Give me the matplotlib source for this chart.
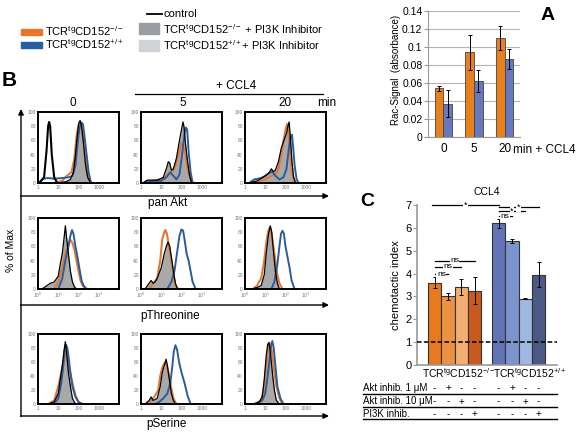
import numpy as np
import matplotlib
matplotlib.use("Agg")
import matplotlib.pyplot as plt
from matplotlib.patches import Rectangle
from matplotlib.transforms import blended_transform_factory

plt.rcParams['font.family'] = ['Liberation Sans', 'DejaVu Sans']
plt.rcParams['mathtext.fontset'] = 'custom'
plt.rcParams['mathtext.rm'] = 'Liberation Sans'
plt.rcParams['mathtext.it'] = 'Liberation Sans:italic'
plt.rcParams['mathtext.bf'] = 'Liberation Sans:bold'

# ---------------- data ----------------
# Panel A: Rac signal
rac_times = ['0', '5', '20']
rac_ko = [0.054, 0.094, 0.110]
rac_ko_err = [0.003, 0.019, 0.013]
rac_wt = [0.037, 0.062, 0.087]
rac_wt_err = [0.015, 0.012, 0.011]

# Panel C: chemotactic index
chemo_ko = [3.6, 3.0, 3.4, 3.25]
chemo_ko_err = [0.25, 0.15, 0.35, 0.6]
chemo_wt = [6.2, 5.42, 2.9, 3.95]
chemo_wt_err = [0.2, 0.1, 0.03, 0.55]
table_rows = ['Akt inhib. 1 \u03bcM', 'Akt inhib. 10 \u03bcM', 'PI3K inhib.']
table_signs = [['-', '+', '-', '-'], ['-', '-', '+', '-'], ['-', '-', '-', '+']]

# Panel B: flow histograms (log10 intensity, % of max)
AKT_0 = dict(
    ctrl=([0.05, 0.3, 0.42, 0.5, 0.55, 0.6, 0.68, 0.8, 0.95], [0, 8, 45, 80, 86, 80, 40, 8, 0]),
    pi3k=([1.0, 1.4, 1.6, 1.75, 1.85, 1.95, 2.02, 2.08, 2.15, 2.25, 2.35, 2.45, 2.6],
          [0, 2, 5, 15, 40, 70, 85, 88, 80, 55, 25, 8, 0]),
    ko=([0.8, 1.2, 1.35, 1.5, 1.65, 1.8, 1.9, 2.0, 2.08, 2.15, 2.25, 2.35, 2.45, 2.6],
        [0, 3, 8, 12, 15, 35, 65, 82, 85, 78, 55, 30, 10, 0]),
    wt=([0.05, 0.25, 0.5, 0.8, 1.2, 1.5, 1.7, 1.85, 1.95, 2.05, 2.15, 2.22, 2.3, 2.4, 2.5, 2.62],
        [0, 6, 7, 6, 7, 8, 10, 25, 55, 78, 85, 83, 65, 40, 15, 0]),
)
AKT_5 = dict(
    pi3k=([0.1, 0.3, 0.8, 1.1, 1.25, 1.35, 1.42, 1.5, 1.6, 1.75, 1.9, 2.0, 2.07, 2.12, 2.2, 2.3, 2.4, 2.5],
          [0, 4, 4, 8, 20, 30, 28, 18, 20, 35, 60, 75, 86, 80, 55, 30, 10, 0]),
    ko=([0.1, 0.5, 1.0, 1.2, 1.4, 1.6, 1.75, 1.9, 2.0, 2.1, 2.2, 2.3, 2.45, 2.6],
        [0, 3, 5, 8, 15, 18, 28, 45, 57, 50, 40, 20, 5, 0]),
    wt=([0.1, 0.6, 1.0, 1.25, 1.45, 1.6, 1.75, 1.9, 2.05, 2.15, 2.22, 2.28, 2.35, 2.45, 2.55],
        [0, 3, 3, 8, 15, 10, 5, 12, 45, 70, 78, 75, 45, 15, 0]),
)
AKT_20 = dict(
    pi3k=([0.2, 0.6, 1.0, 1.2, 1.3, 1.4, 1.5, 1.65, 1.8, 1.95, 2.05, 2.12, 2.18, 2.25, 2.32, 2.4, 2.5],
          [0, 3, 10, 15, 20, 16, 18, 30, 50, 62, 70, 80, 86, 60, 30, 8, 0]),
    ko=([0.5, 1.0, 1.3, 1.5, 1.65, 1.8, 1.9, 2.0, 2.08, 2.15, 2.22, 2.3, 2.4, 2.5],
        [0, 5, 10, 12, 20, 40, 60, 75, 83, 70, 45, 20, 5, 0]),
    wt=([0.2, 0.45, 0.8, 1.0, 1.2, 1.35, 1.5, 1.7, 1.9, 2.05, 2.15, 2.25, 2.32, 2.38, 2.45, 2.55, 2.65],
        [0, 5, 7, 10, 14, 16, 10, 5, 8, 20, 45, 65, 68, 50, 25, 5, 0]),
)
PTHR_0 = dict(
    pi3k=([0.2, 0.4, 0.6, 0.8, 1.0, 1.1, 1.2, 1.3, 1.35, 1.42, 1.5, 1.6, 1.7, 1.8, 1.9],
          [0, 4, 8, 10, 18, 35, 50, 75, 89, 70, 50, 25, 10, 3, 0]),
    ko=([0.8, 1.0, 1.2, 1.35, 1.5, 1.6, 1.7, 1.8, 1.9, 2.0, 2.1, 2.2, 2.35],
        [0, 10, 30, 50, 62, 69, 65, 55, 40, 25, 12, 5, 0]),
    wt=([1.0, 1.2, 1.35, 1.5, 1.6, 1.68, 1.75, 1.85, 1.95, 2.05, 2.15, 2.25, 2.4],
        [0, 15, 40, 60, 75, 83, 78, 60, 45, 28, 12, 5, 0]),
)
PTHR_5 = dict(
    pi3k=([0.2, 0.4, 0.5, 0.6, 0.7, 0.8, 1.0, 1.15, 1.25, 1.33, 1.42, 1.5, 1.6, 1.7, 1.8],
          [0, 8, 12, 8, 10, 15, 30, 50, 60, 66, 60, 45, 25, 8, 0]),
    ko=([0.4, 0.6, 0.8, 0.95, 1.05, 1.15, 1.2, 1.28, 1.38, 1.5, 1.6, 1.7, 1.85],
        [0, 8, 15, 40, 70, 80, 83, 78, 60, 40, 20, 5, 0]),
    wt=([1.3, 1.5, 1.65, 1.8, 1.9, 2.0, 2.08, 2.15, 2.25, 2.35, 2.45, 2.55, 2.7],
        [0, 10, 25, 55, 75, 84, 82, 70, 50, 40, 25, 10, 0]),
)
PTHR_20 = dict(
    pi3k=([0.3, 0.6, 0.8, 0.95, 1.05, 1.15, 1.25, 1.32, 1.4, 1.5, 1.6, 1.7],
          [0, 2, 5, 20, 50, 75, 89, 80, 55, 25, 8, 0]),
    ko=([0.4, 0.6, 0.8, 0.95, 1.05, 1.15, 1.22, 1.3, 1.4, 1.5, 1.6, 1.7, 1.85],
        [0, 5, 15, 40, 65, 82, 87, 80, 60, 40, 20, 8, 0]),
    wt=([1.3, 1.45, 1.6, 1.7, 1.78, 1.85, 1.92, 2.0, 2.1, 2.2, 2.3, 2.45],
        [0, 10, 35, 60, 78, 82, 78, 60, 45, 30, 12, 0]),
)
PSER_0 = dict(
    pi3k=([0.5, 0.8, 1.0, 1.1, 1.2, 1.28, 1.35, 1.42, 1.5, 1.6, 1.7, 1.85],
          [0, 3, 15, 35, 55, 75, 89, 70, 45, 25, 8, 0]),
    ko=([0.5, 0.8, 1.0, 1.15, 1.25, 1.35, 1.45, 1.55, 1.7, 1.85, 2.0, 2.1],
        [0, 5, 25, 45, 60, 70, 65, 50, 30, 12, 3, 0]),
    wt=([0.8, 1.0, 1.15, 1.25, 1.32, 1.38, 1.45, 1.52, 1.6, 1.7, 1.85, 2.0, 2.2],
        [0, 8, 30, 55, 78, 85, 80, 65, 45, 25, 10, 3, 0]),
)
PSER_5 = dict(
    pi3k=([0.2, 0.4, 0.5, 0.6, 0.8, 0.95, 1.05, 1.15, 1.24, 1.3, 1.4, 1.5, 1.6, 1.7],
          [0, 5, 10, 5, 8, 25, 45, 55, 64, 55, 35, 15, 5, 0]),
    ko=([0.3, 0.5, 0.7, 0.85, 0.95, 1.05, 1.15, 1.2, 1.28, 1.38, 1.48, 1.6, 1.75],
        [0, 5, 12, 20, 40, 52, 58, 60, 55, 42, 25, 8, 0]),
    wt=([0.7, 0.9, 1.1, 1.3, 1.45, 1.55, 1.62, 1.7, 1.78, 1.88, 2.0, 2.15, 2.3, 2.45],
        [0, 3, 8, 15, 30, 55, 75, 84, 78, 60, 45, 30, 12, 0]),
)
PSER_20 = dict(
    pi3k=([0.4, 0.7, 0.85, 0.95, 1.05, 1.12, 1.18, 1.25, 1.35, 1.45, 1.55, 1.7],
          [0, 3, 10, 35, 70, 85, 88, 75, 45, 20, 5, 0]),
    ko=([0.5, 0.8, 0.95, 1.05, 1.12, 1.2, 1.28, 1.35, 1.45, 1.55, 1.7, 1.85],
        [0, 5, 25, 55, 75, 87, 85, 70, 45, 25, 8, 0]),
    wt=([0.6, 0.85, 1.0, 1.1, 1.2, 1.28, 1.35, 1.42, 1.5, 1.6, 1.75, 1.9],
        [0, 5, 15, 35, 60, 82, 90, 80, 55, 25, 8, 0]),
)
hist_grid = [[AKT_0, AKT_5, AKT_20], [PTHR_0, PTHR_5, PTHR_20], [PSER_0, PSER_5, PSER_20]]
row_names = ['pan Akt', 'pThreonine', 'pSerine']
col_names = ['0', '5', '20']

# ---------------- layout ----------------
W, H = 586, 433
fig = plt.figure(figsize=(W / 100, H / 100), dpi=100)


def rect(x0, y0, x1, y1):
    return [x0 / W, 1 - y1 / H, (x1 - x0) / W, (y1 - y0) / H]


ORANGE = '#E07A35'
BLUE = '#2C5C9C'

ov = fig.add_axes([0, 0, 1, 1], zorder=5)
ov.set_xlim(0, W)
ov.set_ylim(H, 0)
ov.axis('off')
ov.patch.set_alpha(0)

# legend
ov.add_patch(Rectangle((21, 29), 21, 5.5, color='#E8762C'))
ov.add_patch(Rectangle((21, 42), 21, 6, color='#2360A8'))
ov.text(45, 31.5, r'TCR$^{\rm tg}$CD152$^{-/-}$', fontsize=8, va='center')
ov.text(45, 44.5, r'TCR$^{\rm tg}$CD152$^{+/+}$', fontsize=8, va='center')
ov.plot([147, 162], [14, 14], color='k', lw=1.3)
ov.text(164, 14, 'control', fontsize=8, va='center')
ov.add_patch(Rectangle((139, 23), 20, 11, color='#9A9DA2'))
ov.add_patch(Rectangle((139, 40), 20, 10.5, color='#CFD2D6'))
ov.text(163, 29, r'TCR$^{\rm tg}$CD152$^{-/-}$ + PI3K Inhibitor', fontsize=8, va='center')
ov.text(163, 45.5, r'TCR$^{\rm tg}$CD152$^{+/+}$+ PI3K Inhibitor', fontsize=8, va='center')

# panel B frame
ov.text(9, 80, 'B', fontsize=15, fontweight='bold', ha='center', va='center')
ov.text(73, 103, col_names[0], fontsize=8.5, ha='center', va='center')
ov.text(183, 103, col_names[1], fontsize=8.5, ha='center', va='center')
ov.text(285, 103, col_names[2], fontsize=8.5, ha='center', va='center')
ov.text(327, 103, 'min', fontsize=8.5, ha='center', va='center')
ov.text(236, 86, '+ CCL4', fontsize=8.5, ha='center', va='center')
ov.plot([135, 323], [93.5, 93.5], color='k', lw=0.9)
arrow = dict(arrowstyle='-|>', lw=1, color='k', mutation_scale=8, shrinkA=0, shrinkB=0)
ov.annotate('', xy=(21, 109), xytext=(21, 416.5), arrowprops=arrow)
for yy in (196, 305, 416):
    ov.annotate('', xy=(329, yy), xytext=(20.5, yy), arrowprops=arrow)
ov.text(11, 250, '% of Max', fontsize=7.5, rotation=90, ha='center', va='center')
ov.text(168, 203, row_names[0], fontsize=8.5, ha='center', va='center')
ov.text(170, 316, row_names[1], fontsize=8.5, ha='center', va='center')
ov.text(166, 424, row_names[2], fontsize=8.5, ha='center', va='center')

cols_x = [(38, 119), (141, 222), (245, 326)]
rows_y = [(112, 183), (218, 289), (334, 404)]
for r, (y0, y1) in enumerate(rows_y):
    for c, (x0, x1) in enumerate(cols_x):
        ax = fig.add_axes(rect(x0, y0, x1, y1))
        d = hist_grid[r][c]
        lx, yv = d['pi3k']
        xv = 10 ** np.array(lx)
        ax.fill_between(xv, yv, 0, color='#A9A9A9', lw=0)
        for key, col, lw in (('ko', ORANGE, 1.5), ('wt', BLUE, 1.4)):
            kx, ky = d[key]
            ax.plot(10 ** np.array(kx), ky, color=col, lw=lw)
        ax.plot(xv, yv, color='k', lw=0.9)
        if 'ctrl' in d:
            cx, cy = d['ctrl']
            ax.plot(10 ** np.array(cx), cy, color='k', lw=1.5)
        ax.set_xscale('log')
        ax.set_xlim(1, 1e4)
        ax.set_ylim(0, 100)
        ax.set_xticks([1, 10, 100, 1000])
        if r == 1:
            ax.set_xticklabels([r'$10^0$', r'$10^1$', r'$10^2$', r'$10^3$'])
        else:
            ax.set_xticklabels(['1', '10', '100', '1000'])
        ax.minorticks_off()
        ax.set_yticks([0, 20, 40, 60, 80, 100])
        ax.tick_params(length=0, labelsize=3.5, labelcolor='#777777', pad=1.5)
        for s in ax.spines.values():
            s.set_linewidth(1.4)

# ---------------- panel A ----------------
axa = fig.add_axes(rect(428, 11, 520, 137))
xa = np.arange(len(rac_times))
bw = 0.28
axa.bar(xa - bw / 2, rac_ko, bw, yerr=rac_ko_err, color='#E8801E', edgecolor='#444444', lw=0.6,
        error_kw=dict(lw=0.7, capsize=1.5, capthick=0.7), zorder=3)
axa.bar(xa + bw / 2, rac_wt, bw, yerr=rac_wt_err, color='#6779BC', edgecolor='#444444', lw=0.6,
        error_kw=dict(lw=0.7, capsize=1.5, capthick=0.7), zorder=3)
axa.set_xlim(-0.5, 2.5)
axa.set_ylim(0, 0.14)
axa.set_yticks(np.arange(0, 0.141, 0.02))
axa.set_yticklabels(['0', '0.02', '0.04', '0.06', '0.08', '0.1', '0.12', '0.14'])
axa.yaxis.grid(True, color='#B5B5B5', lw=0.8, zorder=0)
axa.set_axisbelow(True)
axa.set_xticks(xa)
axa.set_xticklabels(rac_times)
axa.tick_params(axis='x', length=0, labelsize=8.5, pad=4)
axa.tick_params(axis='y', length=3, color='#999999', labelsize=7.5, pad=1)
for s in ('top', 'right'):
    axa.spines[s].set_visible(False)
axa.spines['left'].set_color('#999999')
axa.spines['bottom'].set_color('#999999')
axa.text(2.27, -0.0075, 'min + CCL4', fontsize=8.5, ha='left', va='top')
ov.text(396, 70, 'Rac-Signal  (absorbance)', fontsize=7, rotation=90, ha='center', va='center')
ov.text(548, 15, 'A', fontsize=14, fontweight='bold', ha='center', va='center')

# ---------------- panel C ----------------
axc = fig.add_axes(rect(417, 205, 557, 365))
xk = np.array([0, 1, 2, 3])
xw = xk + 4.81
ko_cols = ['#E8791C', '#EC9243', '#F1AE70', '#C85A1F']
wt_cols = ['#6174B6', '#7B95CC', '#9EB8E2', '#4A5A84']
ek = dict(lw=0.7, capsize=1.5, capthick=0.7)
axc.bar(xk, chemo_ko, 1.0, yerr=chemo_ko_err, color=ko_cols, edgecolor='#333333', lw=0.8, error_kw=ek)
axc.bar(xw, chemo_wt, 1.0, yerr=chemo_wt_err, color=wt_cols, edgecolor='#333333', lw=0.8, error_kw=ek)
axc.set_xlim(-1.33, 9.2)
axc.set_ylim(0, 7)
axc.set_yticks(range(8))
axc.set_xticks([])
axc.tick_params(axis='y', length=3, color='#999999', labelsize=8, pad=1)
for s in ('top', 'right'):
    axc.spines[s].set_visible(False)
axc.spines['left'].set_color('#999999')
axc.spines['bottom'].set_color('#999999')
axc.spines['left'].set_linewidth(1.2)
axc.spines['bottom'].set_linewidth(1.2)
axc.axhline(1, color='k', lw=1.1, ls=(0, (3, 1.5)), zorder=4)
axc.set_ylabel('chemotactic index', fontsize=8, labelpad=3)


def sig(x0, x1, y, label):
    axc.plot([x0, x1], [y, y], color='k', lw=0.9, clip_on=False)
    axc.text((x0 + x1) / 2, y, label, fontsize=6 if label == 'ns' else 6.5, ha='center',
             va='center', clip_on=False,
             bbox=dict(facecolor='white', edgecolor='none', pad=0.3))


sig(-0.2, 4.81, 7.0, '*')
sig(4.81, 7.81, 6.9, '*')
sig(4.81, 6.81, 6.74, '*')
sig(4.81, 5.81, 6.5, 'ns')
sig(0, 3, 4.56, 'ns')
sig(0, 2, 4.3, 'ns')
sig(0, 1, 3.98, 'ns')

ov.text(422, 373, r'TCR$^{\rm tg}$CD152$^{-/-}$', fontsize=7.5, ha='left', va='center')
ov.text(493, 373, r'TCR$^{\rm tg}$CD152$^{+/+}$', fontsize=7.5, ha='left', va='center')
ov.text(487, 192, 'CCL4', fontsize=7.5, ha='center', va='center')
ov.text(367, 202, 'C', fontsize=14, fontweight='bold', ha='center', va='center')

bt = blended_transform_factory(axc.transData, ov.transData)
row_text_y = [388, 401.5, 414]
row_line_y = [393.5, 407, 419]
for i, name in enumerate(table_rows):
    ov.text(363, row_text_y[i], name, fontsize=7, ha='left', va='center')
    ov.plot([363, 557], [row_line_y[i], row_line_y[i]], color='k', lw=1)
    for j in range(4):
        for xs in (xk[j], xw[j]):
            ov.text(xs, row_text_y[i], table_signs[i][j], fontsize=7, ha='center',
                    va='center', transform=bt)

fig.savefig('out.png', dpi=100)
